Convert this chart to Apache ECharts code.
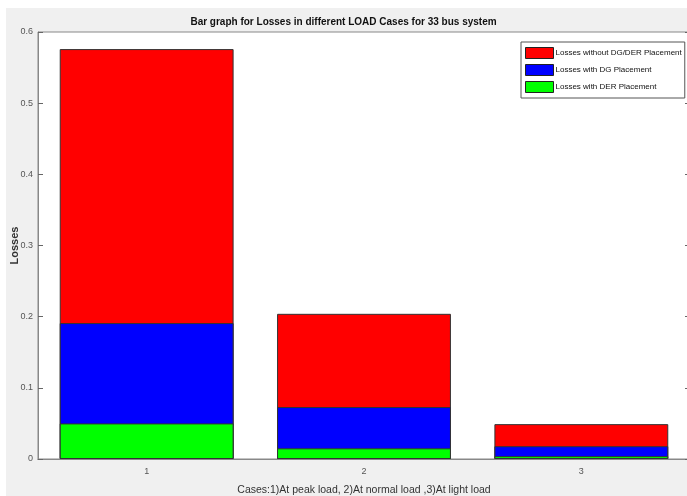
<!DOCTYPE html>
<html>
<head>
<meta charset="utf-8">
<script src="https://cdn.jsdelivr.net/npm/echarts@6/dist/echarts.min.js"></script>
<style>
  html, body { margin: 0; padding: 0; background: #fff; }
  #main { width: 687px; height: 496px; }
</style>
</head>
<body>
<div id="main"></div>
<script>
// case numbers on the x axis
const cases = ['1', '2', '3'];
// losses for each case (bars drawn from zero, overlapping)
const lossNoDG = [0.576, 0.204, 0.049];
const lossDG = [0.191, 0.073, 0.018];
const lossDER = [0.050, 0.015, 0.004];
const yTicks = [0, 0.1, 0.2, 0.3, 0.4, 0.5, 0.6];

const chart = echarts.init(document.getElementById('main'));
const font = '"Liberation Sans", Arial, sans-serif';

const barStyle = function (c) {
  return { color: c, borderColor: '#333', borderWidth: 1 };
};

var option = {
  animation: false,
  textStyle: { fontFamily: font },
  graphic: [{
    type: 'rect', z: -10, silent: true,
    shape: { x: 6, y: 8, width: 700, height: 500 },
    style: { fill: '#f0f0f0' }
  }],
  title: {
    text: 'Bar graph for Losses in different LOAD Cases for 33 bus system',
    left: 'center', top: 12,
    textStyle: { fontSize: 10, fontWeight: 'bold', color: '#111', fontFamily: font }
  },
  legend: {
    orient: 'vertical',
    left: 521, top: 42,
    itemWidth: 28, itemHeight: 11, itemGap: 5,
    padding: [5, 3, 5, 4],
    icon: 'rect',
    backgroundColor: '#fff',
    borderColor: '#555', borderWidth: 1, borderRadius: 0,
    textStyle: { fontSize: 8, color: '#111', fontFamily: font, padding: [0, 0, 0, -3] },
    itemStyle: { borderColor: '#222', borderWidth: 1 },
    data: ['Losses without DG/DER Placement', 'Losses with DG Placement', 'Losses with DER Placement']
  },
  grid: {
    left: 38, top: 32, right: -3, bottom: 37,
    outerBoundsMode: 'none',
    containLabel: false,
    show: true, backgroundColor: '#fff', borderColor: '#888', borderWidth: 1
  },
  xAxis: [{
    type: 'category',
    data: cases,
    name: 'Cases:1)At peak load, 2)At normal load ,3)At light load',
    nameLocation: 'middle', nameGap: 26,
    nameTextStyle: { fontSize: 10.5, color: '#333', fontFamily: font },
    axisLine: { lineStyle: { color: '#888' } },
    axisTick: { inside: true, alignWithLabel: true, length: 5, lineStyle: { color: '#666' } },
    axisLabel: { fontSize: 9, color: '#555', margin: 8 }
  }, {
    type: 'category',
    data: cases,
    position: 'top',
    axisLine: { lineStyle: { color: '#888' } },
    axisTick: { inside: true, alignWithLabel: true, length: 5, lineStyle: { color: '#666' } },
    axisLabel: { show: false }
  }],
  yAxis: [{
    type: 'value',
    min: 0, max: 0.6, interval: 0.1,
    name: 'Losses',
    nameLocation: 'middle', nameGap: 18,
    nameMoveOverlap: false,
    nameTextStyle: { fontSize: 11, fontWeight: 'bold', color: '#333', fontFamily: font },
    axisLine: { show: true, lineStyle: { color: '#888' } },
    axisTick: { show: true, inside: true, length: 5, lineStyle: { color: '#666' } },
    splitLine: { show: false },
    axisLabel: {
      fontSize: 9, color: '#555', margin: 5,
      formatter: function (v) { return yTicks.indexOf(Math.round(v * 10) / 10) >= 0 ? String(Math.round(v * 10) / 10) : ''; }
    }
  }, {
    type: 'value',
    min: 0, max: 0.6, interval: 0.1,
    position: 'right',
    axisLine: { show: true, lineStyle: { color: '#888' } },
    axisTick: { show: true, inside: true, length: 5, lineStyle: { color: '#666' } },
    splitLine: { show: false },
    axisLabel: { show: false }
  }],
  series: [{
    name: 'Losses without DG/DER Placement',
    type: 'bar', barWidth: '80%', barGap: '-100%',
    itemStyle: barStyle('#ff0000'),
    data: lossNoDG
  }, {
    name: 'Losses with DG Placement',
    type: 'bar', barWidth: '80%', barGap: '-100%',
    itemStyle: barStyle('#0000ff'),
    data: lossDG
  }, {
    name: 'Losses with DER Placement',
    type: 'bar', barWidth: '80%', barGap: '-100%',
    itemStyle: barStyle('#00ff00'),
    data: lossDER
  }]
};

chart.setOption(option);
</script>
</body>
</html>
